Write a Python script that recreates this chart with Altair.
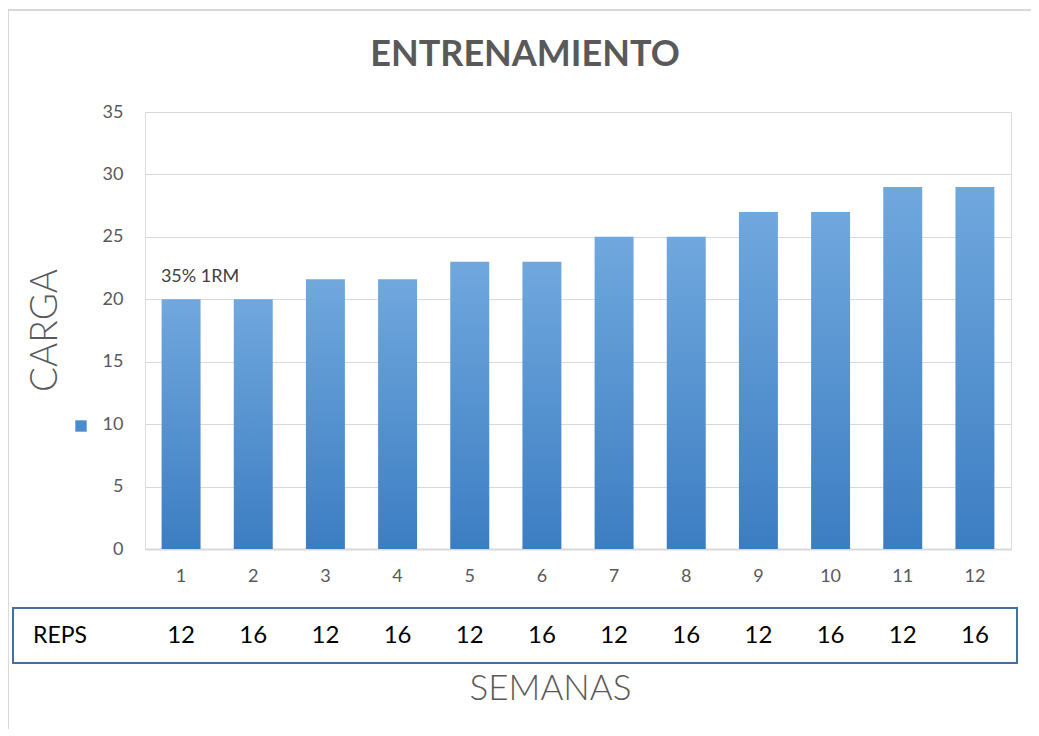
import altair as alt
import pandas as pd

semanas = [1, 2, 3, 4, 5, 6, 7, 8, 9, 10, 11, 12]
carga = [20, 20, 21.6, 21.6, 23, 23, 25, 25, 27, 27, 29, 29]
reps = [12, 16, 12, 16, 12, 16, 12, 16, 12, 16, 12, 16]
label_semana = [1]
label_carga = [20]
label_text = ["35% 1RM"]
titulo = "ENTRENAMIENTO"

df = pd.DataFrame({"semana": semanas, "carga": carga, "reps": reps})
df_label = pd.DataFrame({"semana": label_semana, "carga": label_carga, "txt": label_text})
one = pd.DataFrame({"a": [0]})

FONT = "Lato"
GRAY = "#595959"

x_enc = alt.X(
    "semana:O",
    scale=alt.Scale(paddingInner=0.46, paddingOuter=0.23),
    axis=alt.Axis(
        title="SEMANAS", titleFont=FONT, titleFontSize=35, titleFontWeight=300,
        titleColor=GRAY, titleX=405, titleY=139, titleBaseline="middle", titleAlign="center",
        labelAngle=0, labelFont=FONT, labelFontSize=18, labelColor=GRAY, labelPadding=18,
        ticks=False, domainColor="#d9d9d9", domainWidth=2, grid=False,
    ),
)
y_enc = alt.Y(
    "carga:Q",
    scale=alt.Scale(domain=[0, 35], nice=False),
    axis=alt.Axis(
        title="CARGA", titleFont=FONT, titleFontSize=37, titleFontWeight=300,
        titleColor=GRAY, titleX=-100, titleY=218, titleAngle=-90, titleBaseline="middle",
        titleAlign="center",
        values=[0, 5, 10, 15, 20, 25, 30, 35], labelFont=FONT, labelFontSize=18,
        labelColor=GRAY, labelPadding=22, ticks=False, domain=False,
        gridColor="#d9d9d9", gridWidth=1,
    ),
)

grad = alt.Gradient(
    gradient="linear",
    stops=[alt.GradientStop(color="#70a8de", offset=0), alt.GradientStop(color="#3c7dc2", offset=1)],
    x1=1, x2=1, y1=0, y2=1,
)

bars = alt.Chart(df).mark_bar(color=grad).encode(x=x_enc, y=y_enc)

label = alt.Chart(df_label).mark_text(
    font=FONT, fontSize=18, color="#404040", dx=19, dy=-17, baseline="alphabetic"
).encode(x=x_enc, y=y_enc, text="txt:N")

box = alt.Chart(one).mark_rect(fill="white", stroke="#41719c", strokeWidth=2).encode(
    x=alt.value(-132), x2=alt.value(872), y=alt.value(496), y2=alt.value(551)
)

reps_text = alt.Chart(df).mark_text(
    font=FONT, fontSize=24, color="black", baseline="middle"
).encode(x=x_enc, y=alt.value(524), text="reps:Q")

reps_head = alt.Chart(one).mark_text(
    font=FONT, fontSize=23, color="black", baseline="middle", align="left"
).encode(x=alt.value(-112), y=alt.value(524), text=alt.value("REPS"))

legend_sq = alt.Chart(one).mark_square(color="#4a8bd0", opacity=1, size=130).encode(
    x=alt.value(-64), y=alt.value(314)
)

title_mark = alt.Chart(one).mark_text(
    font=FONT, fontSize=36, fontWeight="bold", color=GRAY, baseline="alphabetic", align="center"
).encode(x=alt.value(380), y=alt.value(-46), text=alt.value(titulo))

border_left = alt.Chart(one).mark_rule(color="#d9d9d9", strokeWidth=2).encode(
    x=alt.value(-137), y=alt.value(-102), y2=alt.value(640)
)
border_top = alt.Chart(one).mark_rule(color="#d9d9d9", strokeWidth=2).encode(
    x=alt.value(-137), x2=alt.value(894), y=alt.value(-102)
)

chart = alt.layer(
    border_left, border_top, bars, label, box, reps_text, reps_head, legend_sq, title_mark
).properties(
    width=866,
    height=437,
    padding={"left": 137, "top": 104, "right": 20, "bottom": 180},
    autosize=alt.AutoSizeParams(type="none"),
).configure_view(stroke=None).configure(background="white")

chart.save("out.html", embed_options={"renderer": "svg", "actions": False})
